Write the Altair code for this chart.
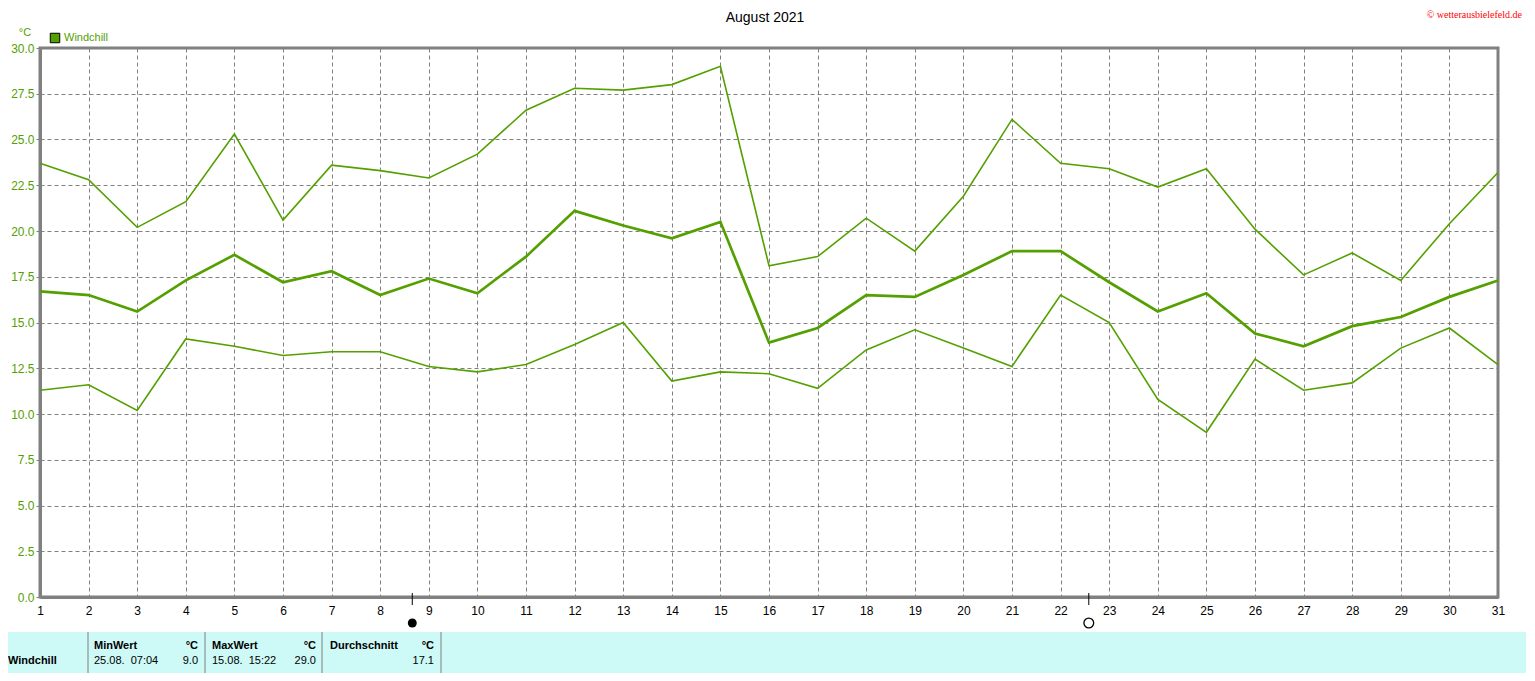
import altair as alt
import pandas as pd

# ---------------- data ----------------
days = list(range(1, 32))
wc_max = [23.7, 22.8, 20.2, 21.6, 25.3, 20.6, 23.6, 23.3, 22.9, 24.2,
          26.6, 27.8, 27.7, 28.0, 29.0, 18.1, 18.6, 20.7, 18.9, 21.9,
          26.1, 23.7, 23.4, 22.4, 23.4, 20.1, 17.6, 18.8, 17.3, 20.4, 23.2]
wc_mean = [16.7, 16.5, 15.6, 17.3, 18.7, 17.2, 17.8, 16.5, 17.4, 16.6,
           18.6, 21.1, 20.3, 19.6, 20.5, 13.9, 14.7, 16.5, 16.4, 17.6,
           18.9, 18.9, 17.2, 15.6, 16.6, 14.4, 13.7, 14.8, 15.3, 16.4, 17.3]
wc_min = [11.3, 11.6, 10.2, 14.1, 13.7, 13.2, 13.4, 13.4, 12.6, 12.3,
          12.7, 13.8, 15.0, 11.8, 12.3, 12.2, 11.4, 13.5, 14.6, 13.6,
          12.6, 16.5, 15.0, 10.8, 9.0, 13.0, 11.3, 11.7, 13.6, 14.7, 12.7]
y_ticks = [0.0, 2.5, 5.0, 7.5, 10.0, 12.5, 15.0, 17.5, 20.0, 22.5, 25.0, 27.5, 30.0]
moon_days = [8.66, 22.58]
moon_kind = ["Neumond", "Vollmond"]
min_time = "07:04"
max_time = "15:22"
month_label = "August 2021"
series_name = "Windchill"

GREEN = "#54a000"
GREY = "#808080"

df = pd.DataFrame({"day": days, "max": wc_max, "mean": wc_mean, "min": wc_min})
moons = pd.DataFrame({"day": moon_days, "kind": moon_kind})

# statistics for the table, computed from the series
min_val = min(wc_min)
min_day = days[wc_min.index(min_val)]
max_val = max(wc_max)
max_day = days[wc_max.index(max_val)]
avg_val = sum(wc_mean) / len(wc_mean)

xscale = alt.Scale(domain=[1, 31], nice=False, zero=False)
yscale = alt.Scale(domain=[0, 30], nice=False)

base = alt.Chart(df)

x_axis = alt.Axis(values=days, title=None, grid=True, gridColor=GREY, gridDash=[4, 3],
                  gridWidth=1, ticks=False, labelPadding=8, labelFontSize=12,
                  labelColor="black", labelFont="Liberation Sans", labelFlush=False,
                  domainColor=GREY, domainWidth=3)
y_axis = alt.Axis(values=y_ticks, format=".1f", title=None, grid=True, gridColor=GREY,
                  gridDash=[4, 3], gridWidth=1, tickSize=4, tickColor=GREY, tickWidth=1,
                  labelPadding=2, labelFontSize=12, labelColor=GREEN,
                  labelFont="Liberation Sans", labelFlush=False,
                  domainColor=GREY, domainWidth=3)

line_max = base.mark_line(color=GREEN, strokeWidth=1.6).encode(
    x=alt.X("day:Q", scale=xscale, axis=x_axis),
    y=alt.Y("max:Q", scale=yscale, axis=y_axis),
)
line_mean = base.mark_line(color=GREEN, strokeWidth=2.7).encode(
    x=alt.X("day:Q", scale=xscale), y=alt.Y("mean:Q", scale=yscale))
line_min = base.mark_line(color=GREEN, strokeWidth=1.6).encode(
    x=alt.X("day:Q", scale=xscale), y=alt.Y("min:Q", scale=yscale))

# moon phase markers below the axis
moon_tick = alt.Chart(moons).mark_rule(color="black", strokeWidth=1).encode(
    x=alt.X("day:Q", scale=xscale), y=alt.value(545), y2=alt.value(557))
new_moon = alt.Chart(moons).transform_filter(alt.datum.kind == "Neumond").mark_point(
    shape="circle", filled=True, color="black", size=80, opacity=1).encode(
    x=alt.X("day:Q", scale=xscale), y=alt.value(575))
full_moon = alt.Chart(moons).transform_filter(alt.datum.kind == "Vollmond").mark_point(
    shape="circle", filled=False, color="black", size=95, strokeWidth=1.3, opacity=1).encode(
    x=alt.X("day:Q", scale=xscale), y=alt.value(575))


def txt(text, x, y, align="left", bold=False, color="black", size=11,
        font="Liberation Sans", baseline="middle"):
    return alt.Chart(pd.DataFrame({"t": [text]})).mark_text(
        align=align, baseline=baseline, fontSize=size, font=font,
        fontWeight="bold" if bold else "normal", color=color).encode(
        text="t:N", x=alt.value(x), y=alt.value(y))


def vrule(x, y1, y2, color=GREY, width=1):
    return alt.Chart(pd.DataFrame({"a": [0]})).mark_rule(color=color, strokeWidth=width).encode(
        x=alt.value(x), y=alt.value(y1), y2=alt.value(y2))


# header decorations
title = txt(month_label, 725, -26, align="center", size=14, baseline="alphabetic")
watermark = txt("\u00a9 wetterausbielefeld.de", 1482, -30, align="right", color="#ff0000",
                size=10, font="Liberation Serif", baseline="alphabetic")
unit = txt("\u00b0C", -15, -15, align="center", color=GREEN, size=11)
legend_sq = alt.Chart(pd.DataFrame({"a": [0]})).mark_square(
    size=90, fill=GREEN, stroke="black", strokeWidth=1, opacity=1).encode(
    x=alt.value(15), y=alt.value(-10))
legend_txt = txt(series_name, 24, -10, color=GREEN, size=11)

# statistics table band
band = alt.Chart(pd.DataFrame({"a": [0]})).mark_rect(color="#cdf9f6").encode(
    x=alt.value(-32), x2=alt.value(1486), y=alt.value(584), y2=alt.value(630))

nb = "\u00a0\u00a0"
table = [
    band,
    vrule(48, 584, 630), vrule(165, 584, 630), vrule(282, 584, 630), vrule(401, 584, 630),
    txt(series_name, -32, 613, bold=True),
    txt("MinWert", 54, 598, bold=True),
    txt("\u00b0C", 158, 598, align="right", bold=True),
    txt(f"{min_day:02d}.08.{nb}{min_time}", 54, 613),
    txt(f"{min_val:.1f}", 158, 613, align="right"),
    txt("MaxWert", 172, 598, bold=True),
    txt("\u00b0C", 276, 598, align="right", bold=True),
    txt(f"{max_day:02d}.08.{nb}{max_time}", 172, 613),
    txt(f"{max_val:.1f}", 276, 613, align="right"),
    txt("Durchschnitt", 290, 598, bold=True),
    txt("\u00b0C", 394, 598, align="right", bold=True),
    txt(f"{avg_val:.1f}", 394, 613, align="right"),
]

chart = alt.layer(
    line_max, line_mean, line_min, moon_tick, new_moon, full_moon,
    title, watermark, unit, legend_sq, legend_txt, *table
).properties(
    width=1458, height=549,
    autosize=alt.AutoSizeParams(type="none"),
    padding={"left": 32, "top": 40, "right": 29, "bottom": 76},
    background="white",
).configure_view(stroke=GREY, strokeWidth=3)

chart.save("out.html", embed_options={"renderer": "svg", "actions": False})
